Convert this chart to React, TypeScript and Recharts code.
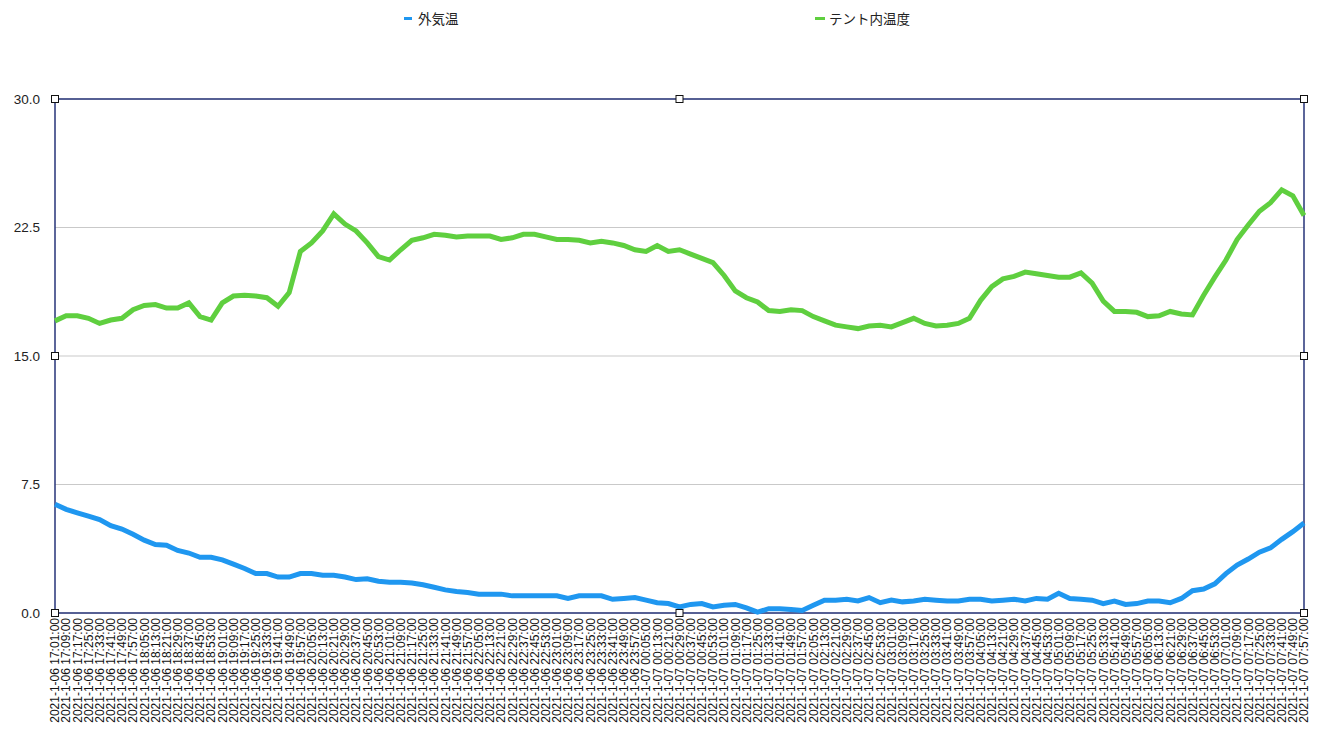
import React from 'react';
import { LineChart, Line, XAxis, YAxis, CartesianGrid, ReferenceArea, ReferenceDot } from 'recharts';

// time labels every 8 minutes, 2021-1-06 17:01 .. 2021-1-07 07:57
const pad = (n: number) => (n < 10 ? `0${n}` : `${n}`);
const timeLabels: string[] = [];
for (let m = 17 * 60 + 1; m <= 24 * 60 + 7 * 60 + 57; m += 8) {
  const day = m >= 24 * 60 ? '2021-1-07' : '2021-1-06';
  const mm = m % (24 * 60);
  timeLabels.push(`${day} ${pad(Math.floor(mm / 60))}:${pad(mm % 60)}:00`);
}

const outsideTemp = [
  6.35, 6.05, 5.85, 5.65, 5.45, 5.1, 4.9, 4.6, 4.25, 4.0,
  3.95, 3.65, 3.5, 3.25, 3.25, 3.1, 2.85, 2.6, 2.3, 2.3,
  2.1, 2.1, 2.3, 2.3, 2.2, 2.2, 2.1, 1.95, 2.0, 1.85,
  1.8, 1.8, 1.75, 1.65, 1.5, 1.35, 1.25, 1.2, 1.1, 1.1,
  1.1, 1.0, 1.0, 1.0, 1.0, 1.0, 0.85, 1.0, 1.0, 1.0,
  0.8, 0.85, 0.9, 0.75, 0.6, 0.55, 0.35, 0.5, 0.55, 0.35,
  0.45, 0.5, 0.3, 0.05, 0.25, 0.25, 0.2, 0.15, 0.45, 0.75,
  0.75, 0.8, 0.7, 0.9, 0.6, 0.75, 0.65, 0.7, 0.8, 0.75,
  0.7, 0.7, 0.8, 0.8, 0.7, 0.75, 0.8, 0.7, 0.85, 0.8,
  1.15, 0.85, 0.8, 0.75, 0.55, 0.7, 0.5, 0.55, 0.7, 0.7,
  0.6, 0.85, 1.3, 1.4, 1.7, 2.3, 2.8, 3.15, 3.55, 3.8,
  4.3, 4.75, 5.25,
];

const tentTemp = [
  17.05, 17.35, 17.35, 17.2, 16.9, 17.1, 17.2, 17.7, 17.95, 18.0,
  17.8, 17.8, 18.1, 17.3, 17.1, 18.1, 18.5, 18.55, 18.5, 18.4,
  17.9, 18.7, 21.1, 21.6, 22.3, 23.3, 22.7, 22.3, 21.6, 20.8,
  20.6, 21.2, 21.75, 21.9, 22.1, 22.05, 21.95, 22.0, 22.0, 22.0,
  21.8, 21.9, 22.1, 22.1, 21.95, 21.8, 21.8, 21.75, 21.6, 21.7,
  21.6, 21.45, 21.2, 21.1, 21.45, 21.1, 21.2, 20.95, 20.7, 20.45,
  19.7, 18.8, 18.4, 18.15, 17.65, 17.6, 17.7, 17.65, 17.3, 17.05,
  16.8, 16.7, 16.6, 16.75, 16.8, 16.7, 16.95, 17.2, 16.9, 16.75,
  16.8, 16.9, 17.2, 18.25, 19.05, 19.5, 19.65, 19.9, 19.8, 19.7,
  19.6, 19.6, 19.85, 19.25, 18.2, 17.6, 17.6, 17.55, 17.3, 17.35,
  17.6, 17.45, 17.4, 18.55, 19.6, 20.6, 21.8, 22.65, 23.45, 23.95,
  24.7, 24.35, 23.2,
];

const yTicks = [0, 7.5, 15, 22.5, 30];

const BLUE = '#1f97f0';
const GREEN = '#5fcf3f';
const FRAME = '#27357a';

const data = timeLabels.map((t, i) => ({ time: t, outside: outsideTemp[i], tent: tentTemp[i] }));

const TimeTick = (props: any) => {
  const { x, y, payload } = props;
  return (
    <g transform={`translate(${x},${y + 5})`}>
      <text transform="rotate(-90)" textAnchor="end" dy="0.36em" fontSize={12} fill="#111">
        {payload.value}
      </text>
    </g>
  );
};

const Handle = (props: any) => {
  const { cx, cy } = props;
  if (cx == null || cy == null) return null;
  return <rect x={cx - 3.5} y={cy - 3.5} width={7} height={7} fill="#fff" stroke="#111" strokeWidth={1} />;
};

const handleXs = [timeLabels[0], timeLabels[56], timeLabels[timeLabels.length - 1]];
const handleYs = [0, 15, 30];

export default function App() {
  return (
    <div style={{ position: 'absolute', left: 0, top: 0, width: 1319, height: 739, background: '#fff', fontFamily: '"Liberation Sans", "Noto Sans CJK JP", sans-serif' }}>
      <div style={{ position: 'absolute', top: 8, left: 404, display: 'flex', alignItems: 'center', fontSize: 13.5, color: '#222' }}>
        <span style={{ display: 'inline-block', width: 8, height: 3, background: BLUE, marginRight: 6 }} />
        <span style={{ fontFamily: '"Noto Sans CJK JP", sans-serif' }}>外気温</span>
      </div>
      <div style={{ position: 'absolute', top: 8, left: 815, display: 'flex', alignItems: 'center', fontSize: 13.5, color: '#222' }}>
        <span style={{ display: 'inline-block', width: 10, height: 3, background: GREEN, marginRight: 4 }} />
        <span style={{ fontFamily: '"Noto Sans CJK JP", sans-serif' }}>テント内温度</span>
      </div>
      <LineChart width={1319} height={739} data={data} margin={{ top: 99, right: 15, left: 0, bottom: 0 }}>
        <CartesianGrid vertical={false} stroke="#c9c9c9" />
        <XAxis
          dataKey="time"
          interval={0}
          height={126}
          axisLine={false}
          tickLine={false}
          tickSize={0}
          tickMargin={0}
          tick={<TimeTick />}
        />
        <YAxis
          width={55}
          domain={[0, 30]}
          ticks={yTicks}
          axisLine={false}
          tickLine={false}
          tickSize={0}
          tickMargin={15}
          tickFormatter={(v: number) => v.toFixed(1)}
          tick={{ fontSize: 13.5, fill: '#222' }}
        />
        <ReferenceArea
          x1={timeLabels[0]}
          x2={timeLabels[timeLabels.length - 1]}
          y1={0}
          y2={30}
          fill="none"
          fillOpacity={0}
          stroke={FRAME}
          strokeWidth={1.5}
          ifOverflow="visible"
        />
        <Line type="linear" dataKey="outside" name="外気温" stroke={BLUE} strokeWidth={5} dot={false} isAnimationActive={false} />
        <Line type="linear" dataKey="tent" name="テント内温度" stroke={GREEN} strokeWidth={5} dot={false} isAnimationActive={false} />
        {handleXs.map((hx, i) =>
          handleYs
            .filter((hy) => !(i === 1 && hy === 15))
            .map((hy) => (
              <ReferenceDot key={`${i}-${hy}`} x={hx} y={hy} r={4} ifOverflow="visible" shape={<Handle />} />
            ))
        )}
      </LineChart>
    </div>
  );
}
